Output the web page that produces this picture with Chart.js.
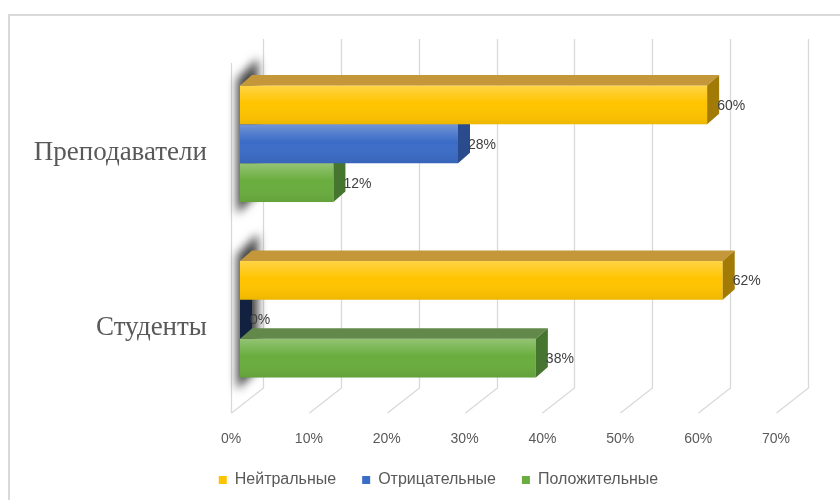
<!DOCTYPE html>
<html>
<head>
<meta charset="utf-8">
<script src="https://cdn.jsdelivr.net/npm/chart.js@4"></script>
<style>
  html, body { margin: 0; padding: 0; background: #fff; overflow: hidden; }
  #wrap { position: relative; width: 840px; height: 500px; }
  #frame {
    position: absolute; left: 8px; top: 14px; width: 900px; height: 600px;
    border: 2px solid #d9d9d9; box-sizing: border-box;
  }
  #chart { position: absolute; left: 0; top: 0; }
</style>
</head>
<body>
<div id="wrap">
  <div id="frame"></div>
  <canvas id="chart" width="840" height="500"></canvas>
</div>
<script>
const categories = ["Преподаватели", "Студенты"];
const neutral = [60, 62];
const negative = [28, 0];
const positive = [12, 38];
const xTickMax = 70;
const xTickStep = 10;

// 3d box depth and wall geometry
const DEPTH_X = 12;
const DEPTH_Y = 10.5;
const WALL_SHIFT = 23;
const FLOOR_X = 32;
const FLOOR_Y = 25;
const LEGEND_SHIFT = 46;

const faceColors = [
  { top: "#c3973a", side: "#a27a06", zeroSide: "#5a4300" },
  { top: "#3a5fa6", side: "#2b4c8c", zeroSide: "#12213f" },
  { top: "#62884a", side: "#467530", zeroSide: "#2a4a1c" },
];

const wallPlugin = {
  id: "wall",
  afterLayout(chart) {
    // legend sits centred under the plot rather than the whole canvas
    if (chart.legend) {
      chart.legend.left += LEGEND_SHIFT;
      chart.legend.right += LEGEND_SHIFT;
    }
  },
  beforeDatasetsDraw(chart) {
    const { ctx } = chart;
    const xs = chart.scales.x;
    const bottom = chart.chartArea.bottom - 19;
    ctx.save();
    ctx.strokeStyle = "#d9d9d9";
    ctx.lineWidth = 1.3;
    for (let v = 0; v <= xTickMax; v += xTickStep) {
      const xb = Math.round(xs.getPixelForValue(v) + WALL_SHIFT) + 0.5;
      ctx.beginPath();
      ctx.moveTo(xb, 39);
      ctx.lineTo(xb, bottom);
      ctx.lineTo(xb - FLOOR_X, bottom + FLOOR_Y);
      ctx.stroke();
    }
    // front edge of the side wall
    const xf = Math.round(xs.getPixelForValue(0) + WALL_SHIFT - FLOOR_X) + 0.5;
    ctx.beginPath();
    ctx.moveTo(xf, 63);
    ctx.lineTo(xf, bottom + FLOOR_Y);
    ctx.stroke();

    // dark end caps at the base of each bar group
    const first = chart.getDatasetMeta(0).data;
    const last = chart.getDatasetMeta(chart.data.datasets.length - 1).data;
    const base = xs.getPixelForValue(0);
    ctx.filter = "blur(5px)";
    ctx.fillStyle = "rgba(20, 20, 20, 0.8)";
    categories.forEach((_, i) => {
      const top = first[i].y - first[i].height / 2;
      const bot = last[i].y + last[i].height / 2;
      ctx.beginPath();
      ctx.moveTo(base - 3, top - 6);
      ctx.lineTo(base + DEPTH_X + 6, top - DEPTH_Y - 17);
      ctx.lineTo(base + DEPTH_X + 6, bot - DEPTH_Y + 2);
      ctx.lineTo(base - 3, bot + 12);
      ctx.closePath();
      ctx.fill();
    });
    ctx.restore();
  },
  afterDatasetDraw(chart, args) {
    const { ctx } = chart;
    const colors = faceColors[args.index];
    const values = chart.data.datasets[args.index].data;
    ctx.save();
    args.meta.data.forEach((bar, i) => {
      const { x, y, base, height } = bar.getProps(["x", "y", "base", "height"], true);
      const top = y - height / 2;
      const bot = y + height / 2;

      if (x > base) {
        // shading across the front face
        const g = ctx.createLinearGradient(0, top, 0, bot);
        g.addColorStop(0, "rgba(255,255,255,0.28)");
        g.addColorStop(0.45, "rgba(255,255,255,0)");
        g.addColorStop(1, "rgba(0,0,0,0.07)");
        ctx.fillStyle = g;
        ctx.fillRect(base, top, x - base, height);

        ctx.fillStyle = colors.top;
        ctx.beginPath();
        ctx.moveTo(base, top);
        ctx.lineTo(base + DEPTH_X, top - DEPTH_Y);
        ctx.lineTo(x + DEPTH_X, top - DEPTH_Y);
        ctx.lineTo(x, top);
        ctx.closePath();
        ctx.fill();
      }

      ctx.fillStyle = values[i] === 0 ? colors.zeroSide : colors.side;
      ctx.beginPath();
      ctx.moveTo(x, top);
      ctx.lineTo(x + DEPTH_X, top - DEPTH_Y);
      ctx.lineTo(x + DEPTH_X, bot - DEPTH_Y);
      ctx.lineTo(x, bot);
      ctx.closePath();
      ctx.fill();
    });
    ctx.restore();
  },
  afterDatasetsDraw(chart) {
    const { ctx } = chart;
    ctx.save();
    ctx.font = "14px 'Liberation Sans', sans-serif";
    ctx.fillStyle = "#404040";
    ctx.textAlign = "left";
    ctx.textBaseline = "middle";
    chart.data.datasets.forEach((ds, di) => {
      chart.getDatasetMeta(di).data.forEach((bar, i) => {
        ctx.fillText(ds.data[i] + "%", bar.x + DEPTH_X - 2, bar.y + 1);
      });
    });
    ctx.restore();
  },
};

new Chart(document.getElementById("chart"), {
  type: "bar",
  data: {
    labels: categories,
    datasets: [
      { label: "Нейтральные", data: neutral, backgroundColor: "#ffc400" },
      { label: "Отрицательные", data: negative, backgroundColor: "#3b6cc6" },
      { label: "Положительные", data: positive, backgroundColor: "#6aad3e" },
    ],
  },
  options: {
    indexAxis: "y",
    responsive: false,
    animation: false,
    barPercentage: 1,
    categoryPercentage: 0.665,
    layout: {
      padding: { left: 0, right: 55, top: 56, bottom: 2 },
    },
    scales: {
      x: {
        min: 0,
        max: xTickMax,
        grid: { display: false, drawTicks: false },
        border: { display: false },
        ticks: {
          stepSize: xTickStep,
          labelOffset: -9,
          padding: 24,
          color: "#595959",
          font: { family: "'Liberation Sans', sans-serif", size: 14 },
          callback: (v) => v + "%",
        },
        afterFit: (scale) => {
          scale.height = 39;
        },
      },
      y: {
        grid: { display: false, drawTicks: false },
        border: { display: false },
        ticks: {
          padding: 33,
          labelOffset: 9,
          color: "#595959",
          font: { family: "'Liberation Serif', serif", size: 27 },
        },
        afterFit: (scale) => {
          scale.width = 240;
        },
      },
    },
    plugins: {
      legend: {
        position: "bottom",
        labels: {
          boxWidth: 8,
          boxHeight: 8,
          padding: 26,
          color: "#595959",
          font: { family: "'Liberation Sans', sans-serif", size: 16 },
        },
      },
      tooltip: { enabled: false },
    },
  },
  plugins: [wallPlugin],
});
</script>
</body>
</html>
